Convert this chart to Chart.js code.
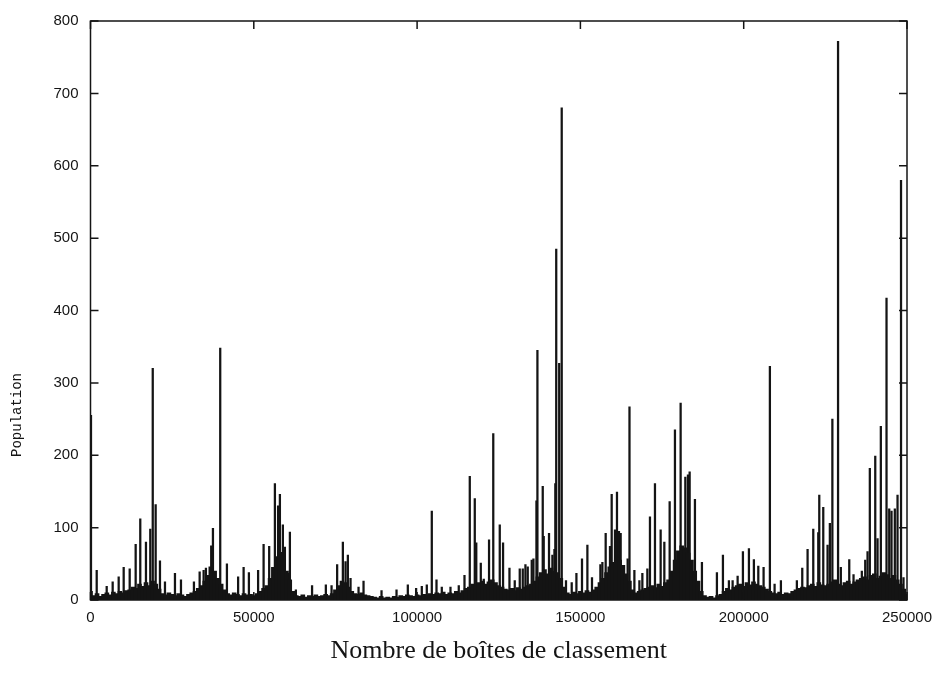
<!DOCTYPE html>
<html><head><meta charset="utf-8">
<script src="https://cdn.jsdelivr.net/npm/chart.js@4/dist/chart.umd.min.js"></script>
<style>html,body{margin:0;padding:0;background:#fff}#wrap{width:943px;height:675px;position:relative}</style>
</head><body><div id="wrap"><canvas id="c" width="943" height="675"></canvas></div>
<script>
const xTickValues = [0, 50000, 100000, 150000, 200000, 250000];
const yTickValues = [0, 100, 200, 300, 400, 500, 600, 700, 800];
const xTitle = 'Nombre de boîtes de classement';
const yTitle = 'Population';

// isolated tall needles (position, population)
const spikeX = [150,1900,4960,6790,8630,10160,12000,13830,15240,16980,18300,19060,19950,21270,22800,25860,27700,31670,33420,34640,35340,36480,36960,37490,39720,41770,45200,46880,48500,51320,53000,54710,56460,57440,57990,58900,59520,60650,61050,62880,67840,72060,73810,75520,77270,78090,78800,79620,82070,83600,89110,93700,97160,99700,101440,102970,104500,105940,107560,110220,112760,114510,116130,117660,118120,119500,120410,122030,123320,125310,126320,128280,129900,131430,132350,133170,133880,135100,135620,136540,136840,138470,138770,140390,141430,142050,142320,142600,143510,144280,145590,147340,148780,150490,152140,153550,156120,156730,157740,159060,159580,160590,161200,161810,162330,164470,165030,166530,168060,168970,170500,171300,172830,174570,175700,177330,178950,180690,182130,182930,183450,185070,187210,191800,193640,195470,196610,198140,199760,201600,203120,204470,206090,208020,209460,211390,216280,217930,219560,221300,222830,223140,224360,225680,226380,227150,228890,229740,232320,233630,236170,237210,237920,238620,240280,240980,241990,243730,244560,245260,246270,247100,248170,248930];
const spikeY = [255,41,19,25,32,45,43,77,112,80,98,320,132,54,25,37,28,25,39,41,44,46,75,99,348,50,32,45,38,41,77,74,161,130,146,104,73,37,94,14,20,21,20,49,80,53,62,30,18,26,13,14,21,16,19,21,123,28,18,18,20,34,171,140,79,51,29,83,230,104,79,44,27,43,43,49,46,55,57,137,345,157,88,92,62,70,161,485,327,680,27,24,37,57,76,31,49,52,92,74,146,97,149,95,92,57,267,41,27,37,43,115,161,97,80,136,235,272,170,173,177,139,52,38,62,27,27,33,67,71,56,47,45,323,22,27,27,44,70,98,93,145,128,76,106,250,772,45,56,35,40,55,67,182,199,85,240,417,126,123,126,145,580,31];

// dense background "grass" level, one value per 1000 boxes (0 .. 250000)
const floorStep = 1000;
const floorY = [
12,6,9,5,8,10,7,11,9,12,10,13,
14,18,16,22,19,24,20,26,22,15,
9,7,10,8,6,9,7,5,8,10,
12,16,20,26,34,45,40,30,22,14,
9,7,10,8,6,9,7,8,6,9,
12,16,20,30,45,60,66,55,40,28,12,
6,5,7,4,6,5,7,5,6,8,6,9,
14,20,26,24,18,12,9,8,10,7,6,
5,4,3,5,3,4,3,5,4,6,5,7,6,5,7,6,8,7,9,
8,10,9,11,8,10,9,12,10,13,
16,18,22,20,24,26,22,25,28,24,20,18,15,
14,16,13,17,15,18,20,22,26,
32,38,42,36,44,40,38,30,18,
10,8,11,9,12,10,13,11,14,18,
24,30,38,46,52,58,55,48,36,26,14,
10,12,14,16,18,20,17,22,19,24,28,
40,55,68,75,72,65,55,40,26,
12,6,4,5,3,6,8,
12,16,14,18,20,22,19,24,21,25,22,20,18,15,
12,10,9,11,8,10,9,12,
14,16,18,17,20,22,19,24,21,20,
22,25,28,22,20,24,26,22,25,28,
30,32,28,34,36,30,33,38,35,30,34,28,
22,15,8
];

const INK = '#141414';
const floorData = floorY.map((v, i) => ({x: i * floorStep, y: v}));
const spikeData = spikeX.map((x, i) => ({x: x, y: spikeY[i]}));

const framePlugin = {
  id: 'frame',
  afterDraw(chart) {
    const ctx = chart.ctx, a = chart.chartArea;
    const xs = chart.scales.x, ys = chart.scales.y;
    const tl = 8;
    ctx.save();
    ctx.strokeStyle = INK;
    ctx.lineWidth = 1.5;
    ctx.strokeRect(a.left, a.top, a.right - a.left, a.bottom - a.top);
    ctx.beginPath();
    xTickValues.forEach(v => {
      const p = xs.getPixelForValue(v);
      ctx.moveTo(p, a.bottom); ctx.lineTo(p, a.bottom - tl);
      ctx.moveTo(p, a.top); ctx.lineTo(p, a.top + tl);
    });
    yTickValues.forEach(v => {
      const p = ys.getPixelForValue(v);
      ctx.moveTo(a.left, p); ctx.lineTo(a.left + tl, p);
      ctx.moveTo(a.right, p); ctx.lineTo(a.right - tl, p);
    });
    ctx.stroke();
    ctx.fillStyle = INK;
    ctx.textAlign = 'center';
    ctx.textBaseline = 'middle';
    ctx.font = '26px "Liberation Serif"';
    ctx.fillText(xTitle, (a.left + a.right) / 2, 651);
    ctx.translate(17, 415);
    ctx.rotate(-Math.PI / 2);
    ctx.font = '14px "Liberation Mono"';
    ctx.fillText(yTitle, 0, 0);
    ctx.restore();
  }
};

new Chart(document.getElementById('c'), {
  type: 'bar',
  data: {
    datasets: [
      {data: floorData, backgroundColor: INK, borderWidth: 0, barThickness: 4, grouped: false},
      {data: spikeData, backgroundColor: INK, borderWidth: 0, barThickness: 1.6, grouped: false}
    ]
  },
  options: {
    responsive: false,
    animation: false,
    devicePixelRatio: 1,
    layout: {padding: {left: 0, right: 36, top: 21, bottom: 0}},
    plugins: {legend: {display: false}, tooltip: {enabled: false}},
    scales: {
      x: {
        type: 'linear', min: 0, max: 250000, offset: false,
        grid: {display: false}, border: {display: false},
        afterBuildTicks: s => { s.ticks = xTickValues.map(v => ({value: v})); },
        afterFit: s => { s.height = 75; },
        ticks: {padding: 1, maxRotation: 0, autoSkip: false, color: INK,
          font: {family: 'Liberation Sans', size: 15}, callback: v => String(v)}
      },
      y: {
        min: 0, max: 800,
        grid: {display: false}, border: {display: false},
        afterBuildTicks: s => { s.ticks = yTickValues.map(v => ({value: v})); },
        afterFit: s => { s.width = 90.5; },
        ticks: {padding: 4, color: INK,
          font: {family: 'Liberation Sans', size: 15}, callback: v => String(v)}
      }
    }
  },
  plugins: [framePlugin]
});
</script></body></html>
